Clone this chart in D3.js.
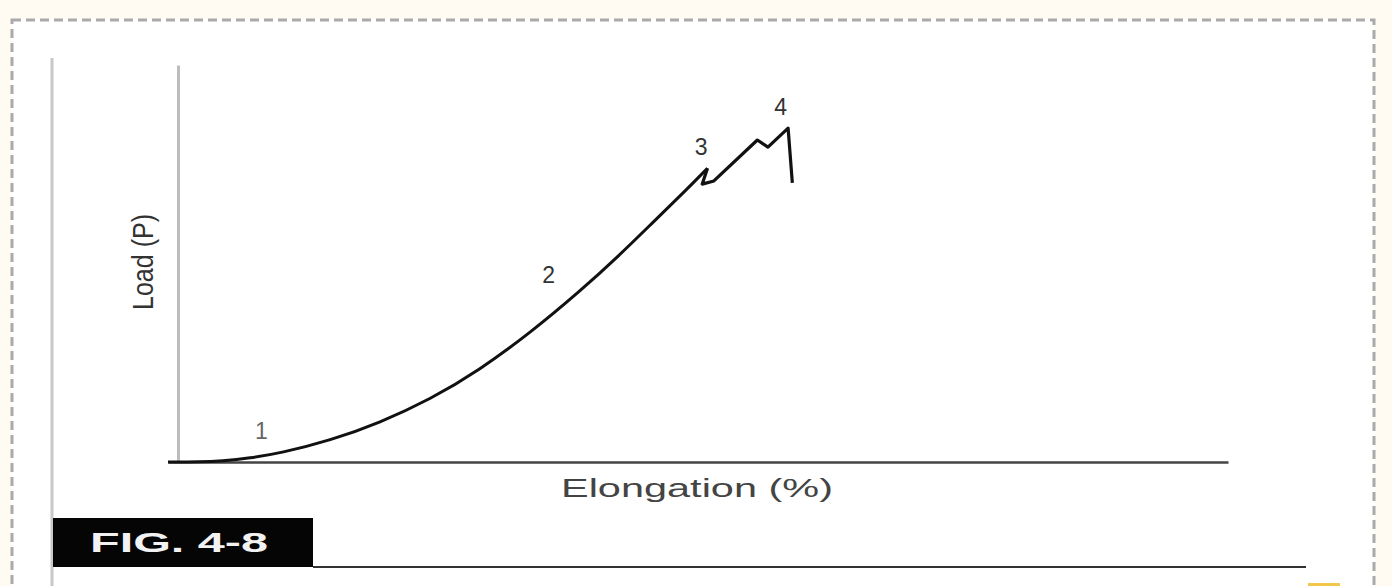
<!DOCTYPE html>
<html>
<head>
<meta charset="utf-8">
<script src="https://cdn.jsdelivr.net/npm/d3@7"></script>
<style>
  html,body{margin:0;padding:0;background:#fffbf3;}
  svg{display:block;}
</style>
</head>
<body>
<div id="chart"></div>
<script>
// load-elongation curve, smooth part (elongation %, load)
var elongation = [0, 3.0, 5.1, 7.7, 10.6, 15.3, 20.0, 24.7, 29.4, 34.2, 38.9, 42.6, 45.8, 49.0, 50.9];
var load = [0, 0, 0.25, 0.96, 2.24, 5.39, 9.93, 15.7, 23.2, 32.6, 43.1, 52.1, 60.5, 68.8, 74.0];
// failure zone, jagged part
var failX = [50.9, 50.4, 51.5, 55.6, 56.6, 58.5, 58.9];
var failY = [74.0, 70.0, 70.8, 81.1, 79.3, 84.1, 70.3];
// region labels
var regionLabels = ["1", "2", "3", "4"];
var labelX = [8.8, 35.9, 50.3, 57.8];
var labelY = [7.3, 46.6, 78.9, 88.9];

var W = 1392, H = 586;
var margin = {top:65, right:164, bottom:124, left:168};
var width = W - margin.left - margin.right,
    height = H - margin.top - margin.bottom;

var svg = d3.select("#chart").append("svg")
  .attr("width", W)
  .attr("height", H);

// page frame
svg.append("rect")
  .attr("x", 12).attr("y", 20)
  .attr("width", 1362).attr("height", 600)
  .attr("fill", "#fff")
  .attr("stroke", "#aaa")
  .attr("stroke-width", 3)
  .attr("stroke-dasharray", "9,5");

// left margin rule of the scanned page
svg.append("line")
  .attr("x1", 52).attr("x2", 52)
  .attr("y1", 58).attr("y2", 586)
  .attr("stroke", "#c8c8c8")
  .attr("stroke-width", 3);

var g = svg.append("g")
  .attr("transform", "translate(" + margin.left + "," + margin.top + ")");

var xScale = d3.scaleLinear().domain([0, 100]).range([0, width]);
var yScale = d3.scaleLinear().domain([0, 100]).range([height, 0]);

// axes without ticks
var yAxis = g.append("g").attr("class", "y axis")
  .attr("transform", "translate(10,0)")
  .call(d3.axisLeft(yScale).tickValues([]).tickSizeOuter(0));
yAxis.select(".domain").attr("stroke", "#bdbdbd").attr("stroke-width", 3);

var xAxis = g.append("g").attr("class", "x axis")
  .attr("transform", "translate(0," + height + ")")
  .call(d3.axisBottom(xScale).tickValues([]).tickSizeOuter(0));
xAxis.select(".domain").attr("stroke", "#444").attr("stroke-width", 2.5);

var smooth = elongation.map(function(d, i){ return {x:d, y:load[i]}; });
var jag = failX.map(function(d, i){ return {x:d, y:failY[i]}; });

var lineSmooth = d3.line()
  .curve(d3.curveBasis)
  .x(function(d){ return xScale(d.x); })
  .y(function(d){ return yScale(d.y); });

var lineJag = d3.line()
  .x(function(d){ return xScale(d.x); })
  .y(function(d){ return yScale(d.y); });

g.append("path")
  .attr("d", lineSmooth(smooth))
  .attr("stroke", "#111")
  .attr("stroke-width", 3)
  .attr("fill", "none");

g.append("path")
  .attr("d", lineJag(jag))
  .attr("stroke", "#111")
  .attr("stroke-width", 3.2)
  .attr("stroke-linejoin", "round")
  .attr("fill", "none");

// region numbers
g.selectAll(".region")
  .data(regionLabels)
  .enter().append("text")
  .attr("class", "region")
  .attr("x", function(d, i){ return xScale(labelX[i]); })
  .attr("y", function(d, i){ return yScale(labelY[i]); })
  .attr("text-anchor", "middle")
  .attr("dominant-baseline", "middle")
  .style("font-family", "Liberation Sans, Arial, sans-serif")
  .style("font-size", "23px")
  .style("fill", function(d, i){ return i == 0 ? "#666" : "#333"; })
  .text(function(d){ return d; });

// axis titles
g.append("text")
  .attr("transform", "translate(-23," + (262 - margin.top) + ") rotate(-90)")
  .attr("text-anchor", "middle")
  .attr("dominant-baseline", "middle")
  .attr("textLength", 96)
  .attr("lengthAdjust", "spacingAndGlyphs")
  .style("font-family", "Liberation Sans, Arial, sans-serif")
  .style("font-size", "29px")
  .style("fill", "#333")
  .text("Load (P)");

g.append("text")
  .attr("x", 697 - margin.left)
  .attr("y", height + 28)
  .attr("text-anchor", "middle")
  .attr("dominant-baseline", "middle")
  .attr("textLength", 272)
  .attr("lengthAdjust", "spacingAndGlyphs")
  .style("font-family", "Liberation Sans, Arial, sans-serif")
  .style("font-size", "26px")
  .style("fill", "#444")
  .text("Elongation (%)");

// figure caption bar
svg.append("rect")
  .attr("x", 53).attr("y", 518)
  .attr("width", 260).attr("height", 49)
  .attr("fill", "#050505");

svg.append("line")
  .attr("x1", 313).attr("x2", 1306)
  .attr("y1", 567).attr("y2", 567)
  .attr("stroke", "#333")
  .attr("stroke-width", 2);

svg.append("text")
  .attr("x", 90)
  .attr("y", 545)
  .attr("dominant-baseline", "middle")
  .attr("textLength", 178)
  .attr("lengthAdjust", "spacingAndGlyphs")
  .style("font-family", "Liberation Sans, Arial, sans-serif")
  .style("font-weight", "bold")
  .style("font-size", "28px")
  .style("fill", "#f2f2f2")
  .text("FIG. 4-8");

// small yellow mark bottom right
svg.append("rect")
  .attr("x", 1308).attr("y", 583)
  .attr("width", 32).attr("height", 3)
  .attr("fill", "#f3c74a");
</script>
</body>
</html>
